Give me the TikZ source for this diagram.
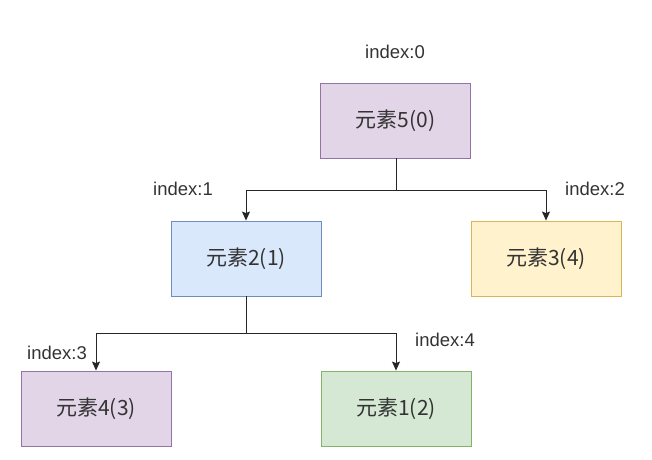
\documentclass[tikz,border=0pt]{standalone}
\usepackage{fontspec}
\setmainfont{Liberation Sans}
\newfontfamily\cjk{Noto Sans CJK SC}
\usetikzlibrary{arrows.meta,positioning}
\definecolor{hpurple}{HTML}{E1D5E7}
\definecolor{hpurpled}{HTML}{9673A6}
\definecolor{hblue}{HTML}{DAE8FC}
\definecolor{hblued}{HTML}{6C8EBF}
\definecolor{hyellow}{HTML}{FFF2CC}
\definecolor{hyellowd}{HTML}{D6B656}
\definecolor{hgreen}{HTML}{D5E8D4}
\definecolor{hgreend}{HTML}{82B366}
\tikzset{
  >={Stealth[length=9pt,width=8pt,inset=1.5pt]},
  % heap
  hn/.style={rectangle,line width=0.9pt,minimum width=150pt,minimum height=75pt,
             inner sep=0pt,text=black!80,font=\cjk\fontsize{21}{25}\selectfont},
  hp/.style={fill=hpurple,draw=hpurpled},
  hb/.style={fill=hblue,draw=hblued},
  hy/.style={fill=hyellow,draw=hyellowd},
  hg/.style={fill=hgreen,draw=hgreend},
  hi/.style={text=black!80,inner sep=0pt,font=\fontsize{18.5}{22}\selectfont},
  he/.style={->,draw=black!85,line width=1pt},
}
\begin{document}
\begin{tikzpicture}[x=1pt,y=-1pt]
  \useasboundingbox (0,0) rectangle (652,459);
  \node[hn,hp] (r) at (395.5,120.5) {元素5(0)};
  \node[hn,hb] (b) at (246,258.5) {元素2(1)};
  \node[hn,hy] (c) at (546,258.5) {元素3(4)};
  \node[hn,hp] (d) at (96,408.5) {元素4(3)};
  \node[hn,hg] (e) at (396,408.5) {元素1(2)};
  \node[hi] (ir) at (395,52) {index:0};
  \node[hi] (ib) at (183,189) {index:1};
  \node[hi] (ic) at (595,189) {index:2};
  \node[hi] (id) at (57,353) {index:3};
  \node[hi] (ie) at (445,340) {index:4};
  \coordinate (jr) at (396,190);
  \coordinate (jb) at (246,333);
  \draw[he] (r.south -| jr) -- (jr) -| (b.north);
  \draw[he] (jr) -| (c.north);
  \draw[he] (b.south) -- (jb) -| (d.north);
  \draw[he] (jb) -| (e.north);
\end{tikzpicture}
\end{document}
